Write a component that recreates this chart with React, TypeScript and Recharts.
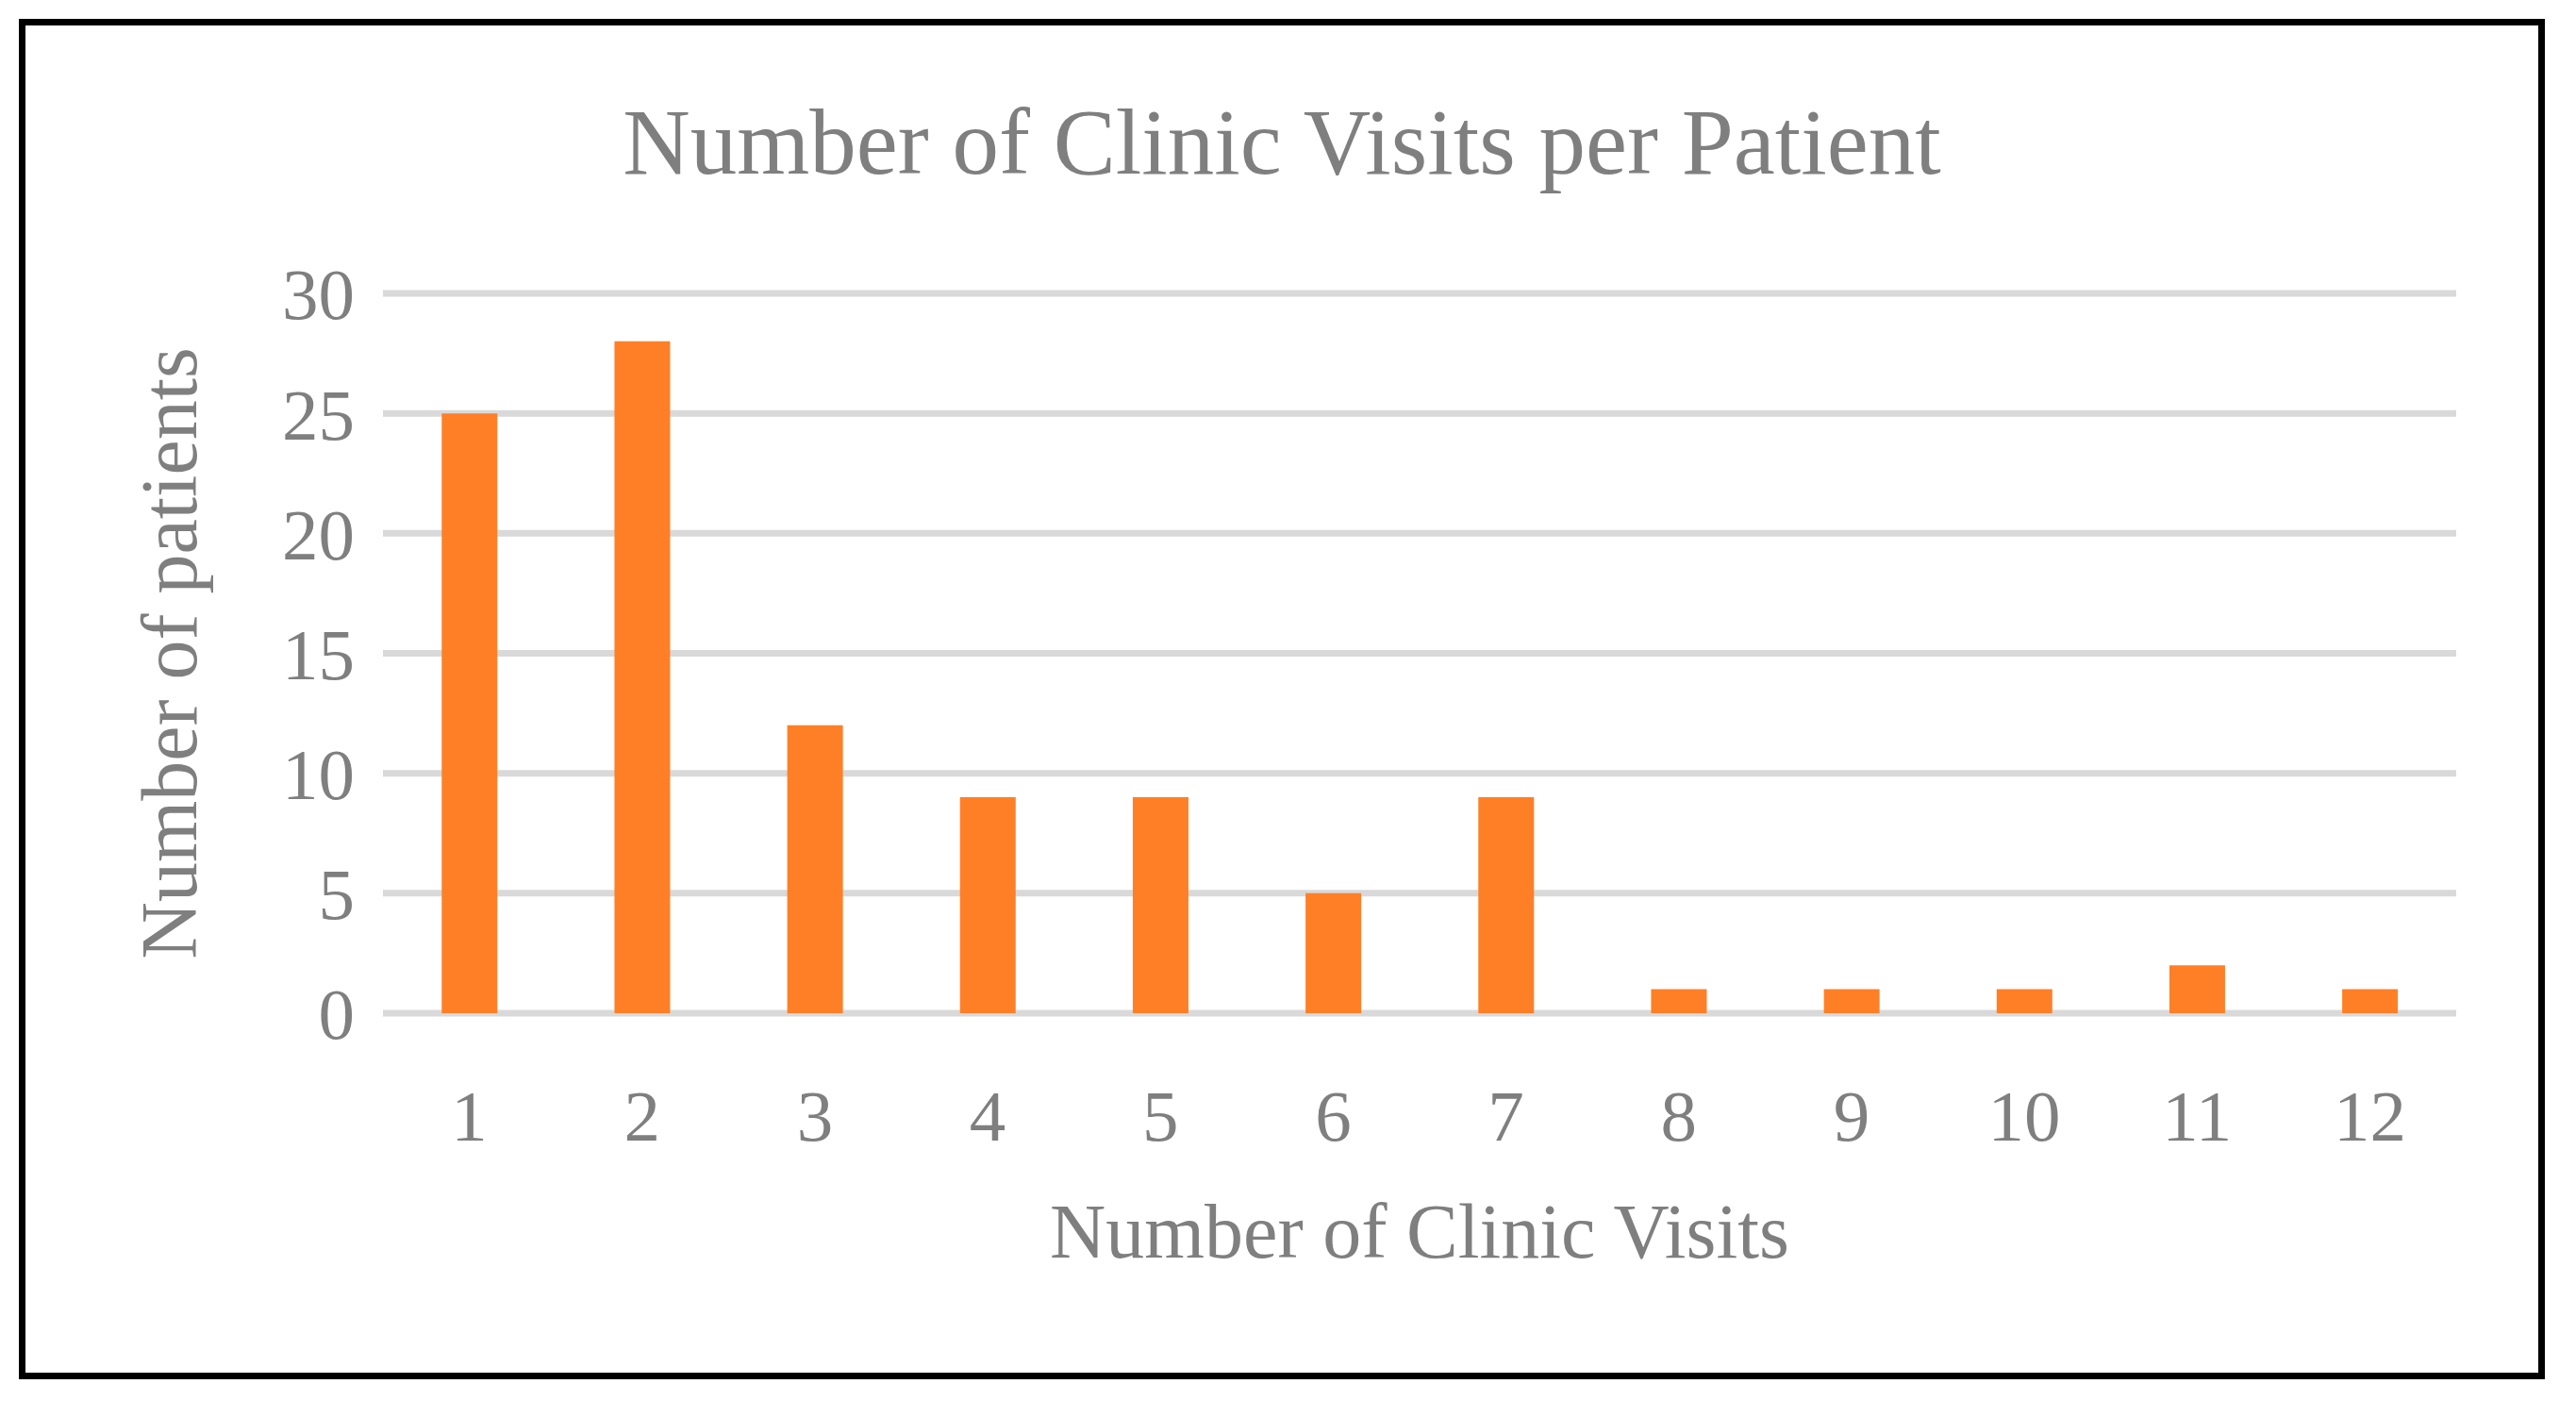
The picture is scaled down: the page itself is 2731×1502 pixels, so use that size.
import React from 'react';
import { BarChart, Bar, XAxis, YAxis, CartesianGrid } from 'recharts';

const visits = ['1', '2', '3', '4', '5', '6', '7', '8', '9', '10', '11', '12'];
const patients = [25, 28, 12, 9, 9, 5, 9, 1, 1, 1, 2, 1];
const yTicks = [0, 5, 10, 15, 20, 25, 30];

const data = visits.map((v, i) => ({ visits: v, patients: patients[i] }));

const FONT = '"Liberation Serif", "Times New Roman", serif';
const GREY = '#7f7f7f';

const W = 2664;
const H = 1428;

const XTitle: React.FC<any> = ({ viewBox }) => {
  const { x, y, width } = viewBox;
  return (
    <text x={x + width / 2} y={y + 259} textAnchor="middle" fill={GREY} fontFamily={FONT} fontSize={82}>
      Number of Clinic Visits
    </text>
  );
};

const YTitle: React.FC<any> = ({ viewBox }) => {
  const { y, height } = viewBox;
  const cx = 181;
  const cy = y + height / 2;
  return (
    <text
      x={cx}
      y={cy}
      textAnchor="middle"
      transform={`rotate(-90, ${cx}, ${cy})`}
      fill={GREY}
      fontFamily={FONT}
      fontSize={84}
    >
      Number of patients
    </text>
  );
};

const App: React.FC = () => {
  return (
    <div
      style={{
        position: 'absolute',
        left: 20,
        top: 20,
        width: 2678,
        height: 1442,
        border: '7px solid #000',
        boxSizing: 'border-box',
        background: '#fff',
      }}
    >
      <svg width={W} height={200} style={{ position: 'absolute', left: 0, top: 0 }}>
        <text x={W / 2} y={157} textAnchor="middle" fill={GREY} fontFamily={FONT} fontSize={99}>
          Number of Clinic Visits per Patient
        </text>
      </svg>
      <div style={{ position: 'absolute', left: 0, top: 0 }}>
        <BarChart width={W} height={H} data={data} margin={{ top: 284, right: 87, left: 0, bottom: 0 }} barCategoryGap="34%">
          <CartesianGrid vertical={false} stroke="#d9d9d9" strokeWidth={7} />
          <XAxis
            dataKey="visits"
            height={381}
            axisLine={false}
            tickLine={false}
            tickSize={0}
            tickMargin={80}
            interval={0}
            tick={{ fill: GREY, fontFamily: FONT, fontSize: 77 }}
            label={<XTitle />}
          />
          <YAxis
            width={379}
            domain={[0, 30]}
            ticks={yTicks}
            axisLine={false}
            tickLine={false}
            tickSize={0}
            tickMargin={30}
            tick={{ fill: GREY, fontFamily: FONT, fontSize: 77 }}
            label={<YTitle />}
          />
          <Bar dataKey="patients" fill="#ff7f27" isAnimationActive={false} />
        </BarChart>
      </div>
    </div>
  );
};

export default App;
